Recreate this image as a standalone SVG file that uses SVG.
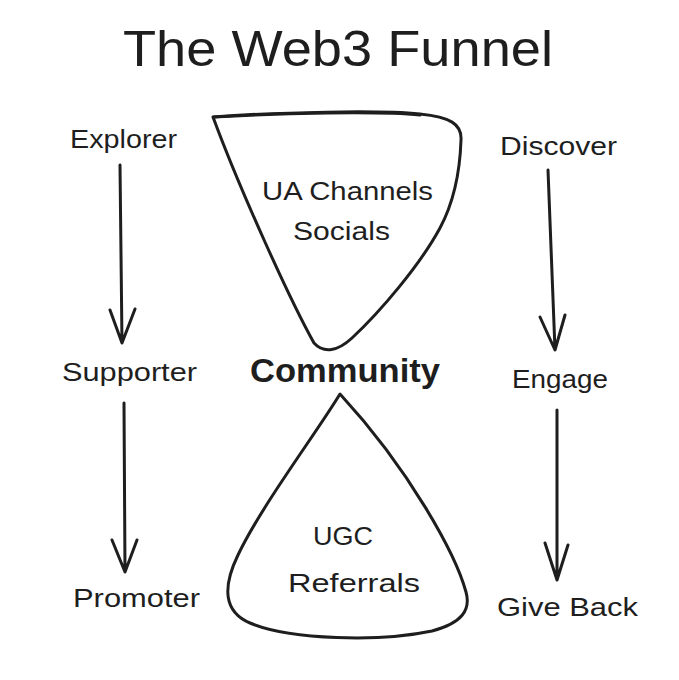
<svg xmlns="http://www.w3.org/2000/svg" width="679" height="680" viewBox="0 0 679 680">
<style>
  .t { font-family: "Liberation Sans", "DejaVu Sans", sans-serif; fill: #1e1e1e; }
  .lbl { font-size: 25px; }
  .shape { fill: none; stroke: #1e1e1e; stroke-width: 3; stroke-linecap: round; stroke-linejoin: round; }
  .arr { fill: none; stroke: #1e1e1e; stroke-width: 3; stroke-linecap: round; stroke-linejoin: round; }
</style>
<rect width="679" height="680" fill="#ffffff"/>
<g id="title">
  <text class="t" x="123" y="66" font-size="50" textLength="430" lengthAdjust="spacingAndGlyphs">The Web3 Funnel</text>
</g>
<g id="top-funnel">
  <path class="shape" d="M213,117 C280,112 380,110 420,114 C450,117 462,124 461,140 C460,170 455,200 440,228 C420,265 380,312 352,338 C338,351 324,354 314,343 C290,300 240,190 213,117 Z"/>
  <path class="shape" d="M214,117 C280,113 380,111 420,115" stroke-width="2"/>
  <text class="t lbl" x="262" y="200" textLength="171" lengthAdjust="spacingAndGlyphs">UA Channels</text>
  <text class="t lbl" x="293" y="240" textLength="97" lengthAdjust="spacingAndGlyphs">Socials</text>
</g>
<g id="community">
  <text class="t" x="250" y="382" font-size="34" font-weight="bold" textLength="190" lengthAdjust="spacingAndGlyphs">Community</text>
</g>
<g id="bottom-funnel">
  <path class="shape" d="M340,394 C315,435 262,505 238,555 C222,588 224,612 250,623 C290,640 380,642 432,631 C462,623 471,610 466,592 C456,555 410,470 340,394 Z"/>
  <text class="t lbl" x="313" y="545" textLength="60" lengthAdjust="spacingAndGlyphs">UGC</text>
  <text class="t lbl" x="288" y="592" textLength="132" lengthAdjust="spacingAndGlyphs">Referrals</text>
</g>
<g id="explorer"><text class="t lbl" x="70" y="148" textLength="107" lengthAdjust="spacingAndGlyphs">Explorer</text></g>
<g id="supporter"><text class="t lbl" x="62" y="381" textLength="135" lengthAdjust="spacingAndGlyphs">Supporter</text></g>
<g id="promoter"><text class="t lbl" x="73" y="607" textLength="127" lengthAdjust="spacingAndGlyphs">Promoter</text></g>
<g id="discover"><text class="t lbl" x="500" y="155" textLength="117" lengthAdjust="spacingAndGlyphs">Discover</text></g>
<g id="engage"><text class="t lbl" x="512" y="388" textLength="96" lengthAdjust="spacingAndGlyphs">Engage</text></g>
<g id="giveback"><text class="t lbl" x="497" y="616" textLength="141" lengthAdjust="spacingAndGlyphs">Give Back</text></g>
<g id="connectors">
  <path class="arr" d="M120,165 L122,343 M110,310 L122,343 L135,309"/>
  <path class="arr" d="M124,403 L125,572 M112,540 L125,572 L137,540"/>
  <path class="arr" d="M548,170 L555,350 M540,317 L555,350 L565,315"/>
  <path class="arr" d="M557,410 L557,580 M545,543 L557,580 L568,545"/>
</g>
</svg>
